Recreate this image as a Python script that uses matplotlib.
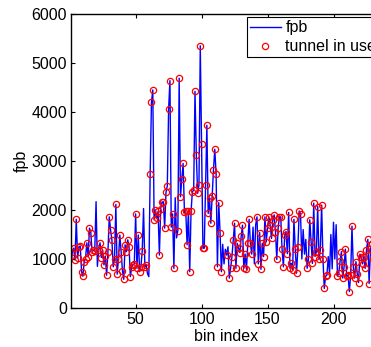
import matplotlib
matplotlib.use('Agg')
import matplotlib.pyplot as plt
import numpy as np

plt.rcParams['font.family'] = ['Liberation Sans', 'DejaVu Sans']

# fpb value for each bin (bin index starts at 1)
fpb = [850, 1150, 1220, 980, 1810, 1020, 1250, 1265, 740, 650,
       945, 1010, 1330, 1050, 1630, 1540, 1150, 1180, 1160, 2170,
       850, 1180, 1330, 1030, 1180, 880, 1060, 670, 1150, 1860,
       1590, 1390, 840, 1010, 2115, 690, 1010, 1490, 1150, 760,
       585, 1290, 1150, 1390, 1250, 640, 840, 880, 900, 1920,
       810, 1490, 740, 840, 1170, 2030, 840, 870, 700, 640,
       2730, 4200, 4450, 1800, 2000, 1830, 1970, 1080, 2030, 2160,
       2170, 1630, 2360, 2490, 4060, 4640, 1650, 1920, 810, 2250,
       1430, 1580, 4690, 2270, 2630, 2950, 1950, 1970, 1290, 1970,
       740, 1970, 2370, 2410, 4420, 3120, 2340, 2510, 5350, 3340,
       1220, 1220, 2510, 3730, 1930, 2240, 1730, 2290, 2820, 3240,
       2730, 840, 2150, 1540, 740, 1300, 900, 1200, 1080, 1250,
       610, 810, 1050, 1390, 1730, 810, 1320, 1220, 1130, 1460,
       1690, 810, 1100, 790, 1320, 1810, 1320, 1100, 1650, 900,
       1700, 1860, 900, 1540, 790, 1320, 1050, 1860, 1350, 1630,
       1860, 1690, 1420, 1800, 1900, 1560, 990, 1630, 1860, 1860,
       1200, 840, 1490, 1560, 1110, 1950, 810, 910, 775, 1810,
       1200, 710, 1240, 1980, 1920, 1000, 1600, 1100, 1400, 810,
       1000, 1800, 1350, 910, 2140, 1050, 1150, 2070, 990, 1180,
       2100, 1010, 400, 650, 670, 1050, 700, 1500, 800, 1750,
       1000, 1700, 650, 710, 960, 1150, 610, 840, 1200, 650,
       670, 335, 670, 1670, 840, 610, 945, 700, 520, 1100,
       1050, 900, 1050, 810, 1180, 1400, 500, 1200, 1300, 1000,
       900, 1100, 1100, 800, 1250, 950]

# bins where no tunnel was in use (no red circle)
no_tunnel = [1, 20, 21, 56, 59, 60, 80, 81, 116, 117, 118, 120, 139, 140, 141,
             176, 177, 178, 179, 196, 197, 198, 199, 200, 201, 202]

x = np.arange(1, len(fpb) + 1)
y = np.array(fpb)
in_use = np.array([i not in no_tunnel for i in x])

fig = plt.figure(figsize=(3.71, 3.47), dpi=100)
# axes run past the right edge of the picture, like the cropped original
ax = fig.add_axes([71 / 371, 39 / 347, 310 / 371, 294 / 347])

ax.plot(x, y, color='blue', lw=1.0, label='fpb')
ax.plot(x[in_use], y[in_use], 'o', ms=4.5, mfc='none', mec='red', mew=0.9,
        label='tunnel in use')

ax.set_xlim(1, len(fpb))
ax.set_ylim(0, 6000)
ax.set_xticks([50, 100, 150, 200])
ax.set_yticks(range(0, 7000, 1000))
ax.tick_params(direction='in', top=True, right=True, labelsize=11.5, length=3,
               pad=3)
for s in ax.spines.values():
    s.set_linewidth(1.0)
ax.set_xlabel('bin index', fontsize=11.5, labelpad=1)
ax.set_ylabel('fpb', fontsize=11.5, labelpad=2)

leg = ax.legend(loc='upper right', bbox_to_anchor=(0.995, 0.99), fontsize=11.5,
                fancybox=False, framealpha=1, edgecolor='black',
                handlelength=1.9, borderpad=0.2, labelspacing=0.25,
                handletextpad=0.3, borderaxespad=0)
leg.get_frame().set_linewidth(0.8)

fig.savefig('out.png', dpi=100)
